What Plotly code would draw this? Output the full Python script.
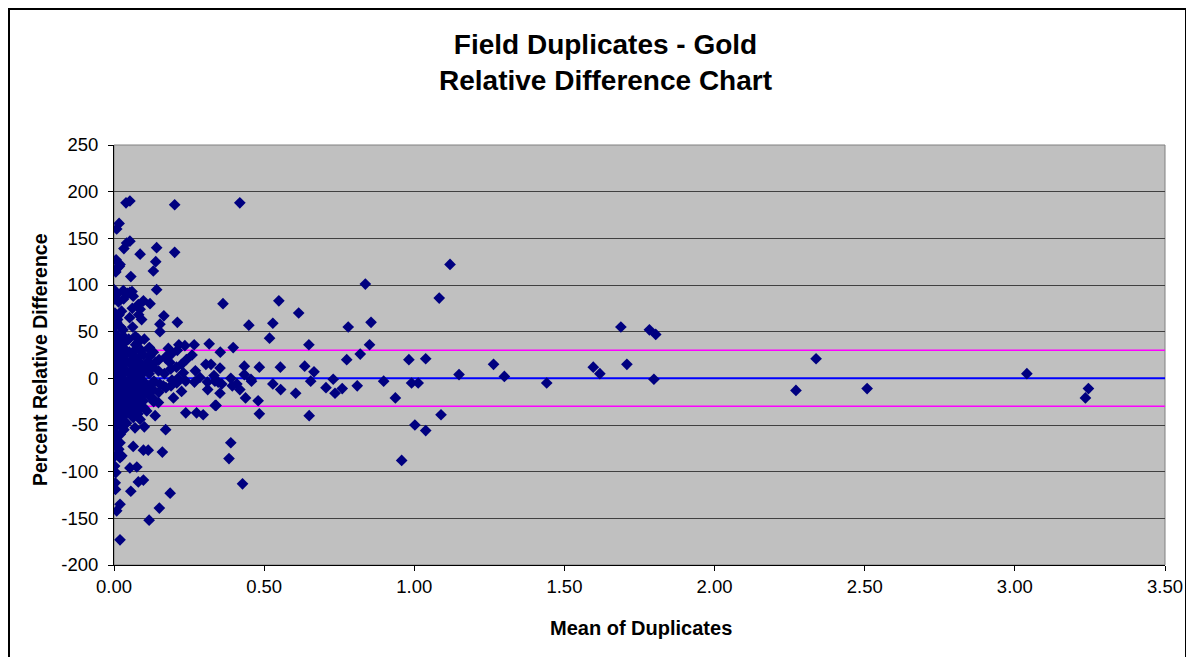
import plotly.graph_objects as go

# ---- data: (mean of duplicates, percent relative difference) ----
pts_high = [
    (0.040, 188), (0.053, 190), (0.202, 186), (0.419, 188), (0.017, 166), (0.009, 160),
    (0.053, 147), (0.042, 145), (0.033, 139), (0.142, 140), (0.087, 133), (0.202, 135),
    (0.007, 127), (0.018, 120), (0.006, 114), (0.139, 125), (0.131, 115), (0.056, 109),
    (0.020, 122), (0.010, 118), (0.142, 95), (0.000, 95), (0.031, 94), (0.053, 92),
    (0.064, 88), (0.002, 85), (0.015, 82), (0.032, 85), (0.098, 83), (0.120, 80),
    (0.081, 79), (0.087, 74), (0.166, 67), (0.092, 63), (0.211, 60), (0.153, 58),
    (0.153, 50), (0.003, 70), (0.012, 63), (0.022, 55), (0.004, 48), (0.030, 52),
    (0.008, 42), (0.081, 42), (0.010, 90), (0.045, 91), (0.060, 93),
]

pts_low = [
    (0.064, 24), (0.120, 24), (0.176, 24), (0.260, 25), (0.137, 17), (0.109, 11),
    (0.186, 17), (0.231, 6), (0.225, 15), (0.209, -5), (0.131, -5), (0.164, -8),
    (0.225, -14), (0.198, -21), (0.131, -22), (0.148, -26), (0.340, -29), (0.239, -37),
    (0.275, -37), (0.109, -35), (0.137, -40), (0.064, -42), (0.087, -44), (0.070, -53),
    (0.101, -52), (0.172, -55), (0.064, -73), (0.098, -77), (0.114, -77), (0.161, -79),
    (0.020, -85), (0.053, -96), (0.076, -95), (0.081, -111), (0.098, -109), (0.056, -121),
    (0.187, -123), (0.020, -135), (0.009, -142), (0.151, -139), (0.117, -152), (0.020, -173),
    (0.072, 36), (0.118, 33), (0.181, 32), (0.216, 36), (0.236, 35), (0.267, 36),
    (0.409, -6), (0.458, -3), (0.336, -3),
    (0.003, -58), (0.005, -65), (0.008, -73), (0.004, -83), (0.002, -94), (0.006, -101),
    (0.004, -112), (0.005, -119), (0.016, -76), (0.020, -69), (0.026, -83),
]

pts_core = [
    (0.004, 38), (0.006, 30), (0.003, 22), (0.007, 15), (0.002, 8), (0.005, 2),
    (0.004, -5), (0.006, -12), (0.003, -20), (0.005, -28), (0.007, -35), (0.004, -45),
    (0.006, -52), (0.012, 45), (0.014, 35), (0.011, 25), (0.013, 18), (0.012, 10),
    (0.015, 4), (0.011, -3), (0.013, -8), (0.014, -15), (0.012, -22), (0.016, -30),
    (0.013, -40), (0.015, -48), (0.021, 38), (0.019, 28), (0.022, 20), (0.020, 12),
    (0.023, 5), (0.018, -2), (0.021, -10), (0.024, -18), (0.019, -25), (0.022, -33),
    (0.020, -42), (0.023, -50), (0.021, -60), (0.031, 45), (0.029, 33), (0.032, 24),
    (0.030, 14), (0.033, 6), (0.028, 0), (0.031, -6), (0.034, -14), (0.029, -24),
    (0.032, -32), (0.030, -45), (0.033, -55), (0.041, 40), (0.039, 30), (0.042, 18),
    (0.040, 8), (0.043, -4), (0.038, -12), (0.041, -20), (0.044, -30), (0.040, -38),
    (0.042, -48), (0.052, 65), (0.049, 42), (0.051, 28), (0.053, 16), (0.050, 6),
    (0.048, -2), (0.052, -9), (0.054, -17), (0.050, -26), (0.053, -35), (0.061, 75),
    (0.062, 55), (0.059, 20), (0.063, 9), (0.060, 0), (0.064, -7), (0.058, -15),
    (0.062, -28), (0.060, -40), (0.071, 45), (0.069, 30), (0.072, 18), (0.070, 5),
    (0.073, -3), (0.068, -12), (0.071, -22), (0.074, -34), (0.082, 68), (0.079, 38),
    (0.081, 22), (0.083, 12), (0.080, 2), (0.078, -6), (0.082, -16), (0.084, -26),
    (0.080, -38), (0.091, 30), (0.089, 16), (0.092, 4), (0.090, -2), (0.093, -10),
    (0.088, -20), (0.091, -30), (0.101, 42), (0.099, 25), (0.102, 8), (0.100, -4),
    (0.103, -14), (0.098, -24), (0.101, -32), (0.115, 32), (0.113, 18), (0.117, 5),
    (0.114, -8), (0.116, -18), (0.131, 28), (0.128, 12), (0.133, -3), (0.130, -12),
    (0.132, -25), (0.150, 20), (0.148, 8), (0.152, -6), (0.149, -15), (0.171, 22),
    (0.168, 5), (0.173, -10), (0.191, 26), (0.189, 10), (0.193, -2), (0.190, -8),
    (0.211, 30), (0.208, 12), (0.213, 0), (0.241, 20), (0.239, -3), (0.271, 8),
    (0.268, -4), (0.001, 55), (0.002, -70), (0.009, 60), (0.017, 68), (0.025, 72),
]

pts_band = [
    (0.363, 80), (0.549, 83), (0.615, 70), (0.449, 57), (0.529, 59), (0.518, 43),
    (0.317, 37), (0.354, 28), (0.397, 33), (0.649, 36), (0.306, 15), (0.323, 15),
    (0.353, 11), (0.434, 13), (0.484, 12), (0.554, 12), (0.635, 13), (0.666, 7),
    (0.286, 1), (0.333, 3), (0.311, -4), (0.347, -4), (0.359, -6), (0.389, 0),
    (0.394, -8), (0.434, 4), (0.456, -1), (0.655, -3), (0.312, -12), (0.353, -16),
    (0.419, -12), (0.438, -21), (0.529, -6), (0.555, -12), (0.605, -16), (0.480, -24),
    (0.337, -29), (0.297, -39), (0.484, -38), (0.650, -40), (0.389, -69), (0.383, -86),
    (0.428, -113),
]

pts_far = [
    (1.119, 122), (0.837, 101), (1.083, 86), (0.780, 55), (0.856, 60), (0.851, 36),
    (0.820, 26), (0.775, 20), (0.982, 20), (1.038, 21), (1.264, 15), (1.149, 4),
    (0.730, -1), (0.898, -3), (0.991, -5), (1.013, -5), (0.706, -10), (0.736, -16),
    (0.760, -11), (0.810, -8), (0.937, -21), (1.089, -39), (1.002, -50), (1.038, -56),
    (0.958, -88), (1.300, 2), (1.441, -5), (1.688, 55), (1.783, 52), (1.804, 47),
    (1.596, 12), (1.618, 5), (1.708, 15), (1.798, -1), (2.271, -13), (2.338, 21),
    (2.508, -11), (3.040, 5), (3.245, -11), (3.235, -21),
]

x_range = [0.0, 3.5]
y_range = [-200, 250]
zero_line = 0
upper_limit = 30
lower_limit = -30
x_ticks = [0.0, 0.5, 1.0, 1.5, 2.0, 2.5, 3.0, 3.5]
y_ticks = [250, 200, 150, 100, 50, 0, -50, -100, -150, -200]
y_tick_labels = [str(v) for v in y_ticks]

all_pts = pts_high + pts_low + pts_core + pts_band + pts_far
mean_of_duplicates = [p[0] for p in all_pts]
percent_rel_diff = [p[1] for p in all_pts]

FONT = "Liberation Sans, Arial, sans-serif"

fig = go.Figure()
fig.add_trace(go.Scatter(x=x_range, y=[upper_limit] * 2, mode="lines",
                         line=dict(color="#FF00FF", width=1.5), hoverinfo="skip"))
fig.add_trace(go.Scatter(x=x_range, y=[lower_limit] * 2, mode="lines",
                         line=dict(color="#FF00FF", width=1.5), hoverinfo="skip"))
fig.add_trace(go.Scatter(x=x_range, y=[zero_line] * 2, mode="lines",
                         line=dict(color="#0000FF", width=2), hoverinfo="skip"))
fig.add_trace(go.Scatter(x=mean_of_duplicates, y=percent_rel_diff, mode="markers",
                         marker=dict(symbol="diamond", size=9, color="#000080",
                                     line=dict(width=0))))

# page body has an 8px margin; figure coordinates = screen - 8
OFF = 8
W, H = 1186, 649
L, R, T, B = 114 - OFF, W - (1165 - OFF), 145 - OFF, H - (565 - OFF)
pw, ph = W - L - R, H - T - B

def px(xs):
    return (xs - OFF - L) / pw

def py(ys):
    return (H - B - (ys - OFF)) / ph

fig.update_layout(
    width=W, height=H,
    margin=dict(l=L, r=R, t=T, b=B),
    paper_bgcolor="white",
    plot_bgcolor="#C0C0C0",
    showlegend=False,
    font=dict(family=FONT, color="black", size=18),
    xaxis=dict(range=x_range, tickvals=x_ticks, tickformat=".2f",
               showgrid=False, zeroline=False, showline=True, linecolor="black",
               linewidth=1, ticks="outside", ticklen=5, tickcolor="black",
               tickfont=dict(size=18.5), ticklabelstandoff=0),
    yaxis=dict(range=y_range, tickvals=y_ticks, ticktext=y_tick_labels,
               showgrid=True, gridcolor="#404040",
               gridwidth=1, zeroline=False, showline=True, linecolor="black",
               linewidth=1, ticks="outside", ticklen=5, tickcolor="black",
               tickfont=dict(size=18.5), ticklabelstandoff=6),
    shapes=[
        dict(type="rect", xref="paper", yref="paper", x0=0, x1=1, y0=0, y1=1,
             line=dict(color="#808080", width=1), layer="below"),
        dict(type="rect", xref="paper", yref="paper", x0=px(9), x1=px(1186),
             y0=py(9), y1=py(670), line=dict(color="black", width=2)),
    ],
    annotations=[
        dict(text="<b>Field Duplicates - Gold</b><br><b>Relative Difference Chart</b>",
             xref="paper", yref="paper", x=px(605), y=py(62), xanchor="center",
             yanchor="middle", showarrow=False, font=dict(size=28, family=FONT)),
        dict(text="<b>Mean of Duplicates</b>", xref="paper", yref="paper",
             x=px(641), y=py(628), xanchor="center", yanchor="middle",
             showarrow=False, font=dict(size=20, family=FONT)),
        dict(text="<b>Percent Relative Difference</b>", xref="paper", yref="paper",
             x=px(40), y=py(360), xanchor="center", yanchor="middle", textangle=-90,
             showarrow=False, font=dict(size=19.5, family=FONT)),
    ],
)

fig.write_html("out.html")
